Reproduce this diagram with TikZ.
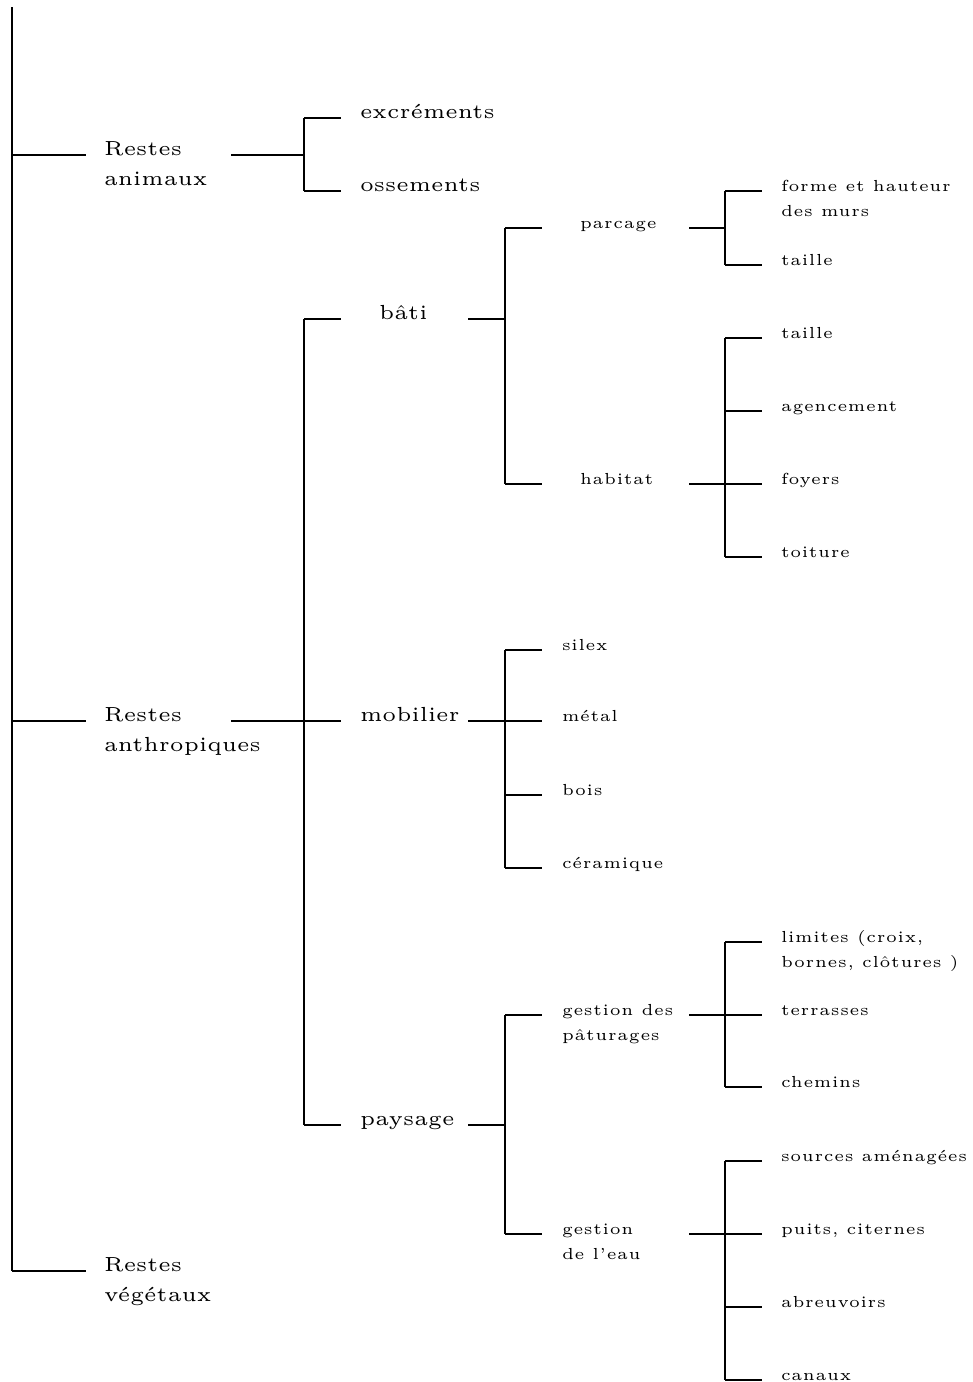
\documentclass[tikz,border=0pt]{standalone}
\usepackage{fontspec}
\setmainfont{lmroman5-regular.otf}
\usepackage{tikz}
\tikzset{
  lab/.style={anchor=base west,inner sep=0pt},
  bigl/.style={lab,font=\fontsize{10.2}{15}\selectfont},
  smalll/.style={lab,font=\fontsize{8}{12.5}\selectfont\addfontfeatures{LetterSpace=4}},
}
% two lines, baseline on the first one
\newcommand{\twol}[2]{\begin{tabular}[t]{@{}l@{}}#1\\#2\end{tabular}}

\begin{document}
\begin{tikzpicture}[x=0.5pt,y=-0.5pt,line width=1pt]
\useasboundingbox (0,0) rectangle (973,1382);
% columns
\coordinate (root) at (12,7);
\coordinate (c1) at (231,0); \coordinate (s1) at (304,0);
\coordinate (c2) at (468,0); \coordinate (s2) at (505,0);
\coordinate (c3) at (689,0); \coordinate (s3) at (725,0);
% first level
\node[bigl] (ani) at (103,155) {\twol{Restes}{animaux}};
\node[bigl] (ant) at (103,721) {\twol{Restes}{anthropiques}};
\node[bigl] (veg) at (103,1271) {\twol{Restes}{végétaux}};
% second level
\node[bigl] (exc) at (359,118) {excréments};
\node[bigl] (oss) at (359,191) {ossements};
\node[bigl] (bat) at (378,319) {bâti};
\node[bigl] (mob) at (359,721) {mobilier};
\node[bigl] (pay) at (359,1125) {paysage};
% third level
\node[smalll] (par) at (579,228) {parcage};
\node[smalll] (hab) at (579,484) {habitat};
\node[smalll] (sil) at (561,650) {silex};
\node[smalll] (met) at (561,721) {métal};
\node[smalll] (boi) at (561,795) {bois};
\node[smalll] (cer) at (561,868) {céramique};
\node[smalll] (pat) at (561,1015) {\twol{gestion des}{pâturages}};
\node[smalll] (eau) at (561,1234) {\twol{gestion}{de l'eau}};
% fourth level
\node[smalll] (mur) at (780,191) {\twol{forme et hauteur}{des murs}};
\node[smalll] (tp) at (780,265) {taille};
\node[smalll] (th) at (780,338) {taille};
\node[smalll] (age) at (780,411) {agencement};
\node[smalll] (foy) at (780,484) {foyers};
\node[smalll] (toi) at (780,557) {toiture};
\node[smalll] (lim) at (780,942) {\twol{limites (croix,}{bornes, clôtures )}};
\node[smalll] (ter) at (780,1015) {terrasses};
\node[smalll] (che) at (780,1087) {chemins};
\node[smalll] (sou) at (780,1161) {sources aménagées};
\node[smalll] (pui) at (780,1234) {puits, citernes};
\node[smalll] (abr) at (780,1307) {abreuvoirs};
\node[smalll] (can) at (780,1380) {canaux};
% trunk
\draw (root) -- (root |- veg.base);
\foreach \n in {ani,ant,veg} \draw (root |- \n.base) -- ++(74,0);
% restes animaux
\draw (c1 |- ani.base) -- (s1 |- ani.base);
\draw (s1 |- exc.base) -- (s1 |- oss.base);
\foreach \n in {exc,oss} \draw (s1 |- \n.base) -- ++(37,0);
% restes anthropiques
\draw (c1 |- ant.base) -- (s1 |- ant.base);
\draw (s1 |- bat.base) -- (s1 |- pay.base);
\foreach \n in {bat,mob,pay} \draw (s1 |- \n.base) -- ++(37,0);
% bati
\draw (c2 |- bat.base) -- (s2 |- bat.base);
\draw (s2 |- par.base) -- (s2 |- hab.base);
\foreach \n in {par,hab} \draw (s2 |- \n.base) -- ++(37,0);
% mobilier
\draw (c2 |- mob.base) -- (s2 |- mob.base);
\draw (s2 |- sil.base) -- (s2 |- cer.base);
\foreach \n in {sil,met,boi,cer} \draw (s2 |- \n.base) -- ++(37,0);
% paysage
\draw (c2 |- pay.base) -- (s2 |- pay.base);
\draw (s2 |- pat.base) -- (s2 |- eau.base);
\foreach \n in {pat,eau} \draw (s2 |- \n.base) -- ++(37,0);
% parcage
\draw (c3 |- par.base) -- (s3 |- par.base);
\draw (s3 |- mur.base) -- (s3 |- tp.base);
\foreach \n in {mur,tp} \draw (s3 |- \n.base) -- ++(37,0);
% habitat
\draw (c3 |- hab.base) -- (s3 |- hab.base);
\draw (s3 |- th.base) -- (s3 |- toi.base);
\foreach \n in {th,age,foy,toi} \draw (s3 |- \n.base) -- ++(37,0);
% paturages
\draw (c3 |- pat.base) -- (s3 |- pat.base);
\draw (s3 |- lim.base) -- (s3 |- che.base);
\foreach \n in {lim,ter,che} \draw (s3 |- \n.base) -- ++(37,0);
% eau
\draw (c3 |- eau.base) -- (s3 |- eau.base);
\draw (s3 |- sou.base) -- (s3 |- can.base);
\foreach \n in {sou,pui,abr,can} \draw (s3 |- \n.base) -- ++(37,0);
\end{tikzpicture}
\end{document}
